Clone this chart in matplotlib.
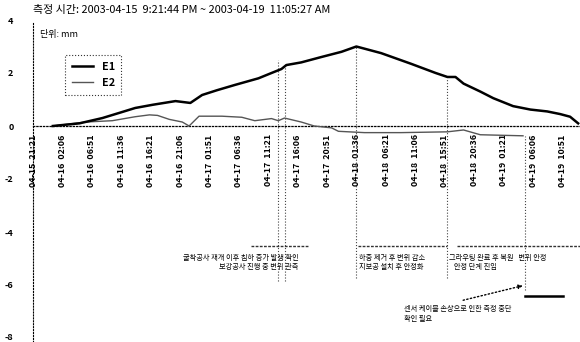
import matplotlib
matplotlib.use("Agg")
import matplotlib.pyplot as plt
import matplotlib.transforms as mtransforms
import numpy as np

plt.rcParams["font.family"] = ["Noto Sans CJK KR", "DejaVu Sans"]

TITLE = "측정 시간: 2003-04-15  9:21:44 PM ~ 2003-04-19  11:05:27 AM"
UNIT = "단위: mm"

# elapsed hours since start, displacement (mm)
E1_T = [3.2, 7.5, 11.2, 14.0, 16.5, 19.3, 23.0, 25.4, 27.3, 29.7, 32.6, 36.4,
        38.5, 40.1, 40.9, 43.3, 46.5, 49.8, 52.2, 56.2, 61.0, 65.0, 66.9, 68.2,
        69.5, 72.2, 74.3, 77.5, 80.3, 83.0, 85.1, 86.7, 88.0]
E1_V = [0.0, 0.1, 0.3, 0.5, 0.68, 0.8, 0.94, 0.87, 1.17, 1.35, 1.55, 1.8,
        2.0, 2.15, 2.3, 2.4, 2.6, 2.8, 3.0, 2.75, 2.35, 2.0, 1.85, 1.85,
        1.6, 1.3, 1.05, 0.75, 0.62, 0.55, 0.45, 0.35, 0.1]

E2_T = [3.2, 8.5, 12.8, 16.5, 18.8, 20.1, 22.0, 24.1, 25.2, 26.8, 30.5, 33.7,
        35.8, 38.5, 39.6, 40.6, 43.3, 45.4, 48.2, 49.3, 53.5, 59.4, 66.9, 69.5,
        72.2, 79.1]
E2_V = [0.0, 0.15, 0.2, 0.35, 0.42, 0.4, 0.25, 0.15, 0.0, 0.37, 0.37, 0.33,
        0.2, 0.28, 0.2, 0.3, 0.15, 0.0, -0.07, -0.2, -0.25, -0.25, -0.22, -0.15,
        -0.33, -0.37]

TICK_T = [4.75 * k for k in range(19)]
TICK_LABELS = ["04-15  21:21", "04-16  02:06", "04-16  06:51", "04-16  11:36",
               "04-16  16:21", "04-16  21:06", "04-17  01:51", "04-17  06:36",
               "04-17  11:21", "04-17  16:06", "04-17  20:51", "04-18  01:36",
               "04-18  06:21", "04-18  11:06", "04-18  15:51", "04-18  20:36",
               "04-19  01:21", "04-19  06:06", "04-19  10:51"]
Y_TICKS = [4, 2, 0, -2, -4, -6, -8]

# event markers: time, top of the guide line, bottom of the guide line
EVENT_T = [39.6, 40.6, 52.2, 66.9, 79.5]
EVENT_TOP = [2.5, 2.3, 3.0, 1.8, -0.37]
EVENT_BOTTOM = [-5.85, -5.85, -5.75, -5.75, -6.2]

# note bars (start, end) and texts
NOTE_BARS = [(35.2, 44.5), (52.5, 66.9), (68.5, 88.5)]
NOTE_Y = -4.53
NOTE_X = [42.9, 52.6, 67.1]
NOTE_HA = ["right", "left", "left"]
NOTES = ["굴착공사 재개 이후 침하 증가 발생 확인\n보강공사 진행 중 변위 관측",
         "하중 제거 후 변위 감소\n지보공 설치 후 안정화",
         "그라우팅 완료 후 복원   변위 안정\n   안정 단계 진입"]
ARROW_TEXT = "센서 케이블 손상으로 인한 측정 중단\n확인 필요"
ARROW_FROM = (69.0, -6.6)
ARROW_TO = (79.5, -6.0)
END_BAR = (79.5, 85.6, -6.42)

fig = plt.figure(figsize=(5.8, 3.42), dpi=100)
ax = fig.add_axes([33 / 580, 4 / 342, 547 / 580, 318 / 342])
ax.set_xlim(0.5, 88.3)
ax.set_ylim(-8.0, 4.0)

ax.plot(E2_T, E2_V, color="#555555", linewidth=1.0, zorder=3, label="E2")
ax.plot(E1_T, E1_V, color="black", linewidth=1.8, zorder=4, label="E1")

for sp in ["top", "right"]:
    ax.spines[sp].set_visible(False)
ax.spines["left"].set_linestyle(":")
ax.spines["left"].set_linewidth(0.8)
ax.spines["left"].set_bounds(-8.15, 3.9)
ax.spines["bottom"].set_position(("data", 0))
ax.spines["bottom"].set_linestyle(":")
ax.spines["bottom"].set_linewidth(0.9)

ax.set_yticks(Y_TICKS)
ax.set_yticklabels([str(v) for v in Y_TICKS], fontsize=6.5, fontweight="bold")
ax.set_xticks(TICK_T)
ax.set_xticklabels(TICK_LABELS, rotation=90, fontsize=6.4, fontweight="bold")
ax.tick_params(axis="y", length=0, pad=14)
ax.tick_params(axis="x", length=0, pad=6)
ylabels = ax.get_yticklabels()
ylabels[-1].set_transform(ylabels[-1].get_transform()
                          + mtransforms.ScaledTranslation(0, 1 / 100, fig.dpi_scale_trans))

for t, top, bot in zip(EVENT_T, EVENT_TOP, EVENT_BOTTOM):
    ax.plot([t, t], [bot, top], color="#444444", linestyle=":", linewidth=0.8, zorder=2)

for (x0, x1) in NOTE_BARS:
    ax.plot([x0, x1], [NOTE_Y, NOTE_Y], color="#333333", linestyle=(0, (2, 1)),
            linewidth=1.0, zorder=2)
for x, ha, txt in zip(NOTE_X, NOTE_HA, NOTES):
    ax.text(x, NOTE_Y - 0.3, txt, ha=ha, va="top", fontsize=5.2,
            linespacing=1.2)

ax.annotate("", xy=ARROW_TO, xytext=ARROW_FROM,
            arrowprops=dict(arrowstyle="-|>", linestyle=":", color="black",
                            linewidth=1.0, mutation_scale=6))
ax.plot([END_BAR[0], END_BAR[1]], [END_BAR[2], END_BAR[2]], color="black", linewidth=1.8)
ax.text(59.9, -6.75, ARROW_TEXT, ha="left", va="top", fontsize=5.2, linespacing=1.3)

fig.text(33 / 580, 1 - 10 / 342, TITLE, ha="left", va="center", fontsize=7.9)
fig.text(40 / 580, 1 - 35 / 342, UNIT, ha="left", va="center", fontsize=6.5)

leg = ax.legend(handles=ax.get_lines()[1::-1], loc="upper left",
                bbox_to_anchor=(32 / 547, 1 - 35 / 318), fontsize=7.8,
                frameon=True, fancybox=False, edgecolor="black",
                handlelength=2.0, borderpad=0.6, labelspacing=0.6,
                borderaxespad=0)
leg.get_frame().set_linestyle(":")
leg.get_frame().set_linewidth(0.8)
for txt in leg.get_texts():
    txt.set_fontweight("bold")

fig.savefig("out.png", dpi=100)
